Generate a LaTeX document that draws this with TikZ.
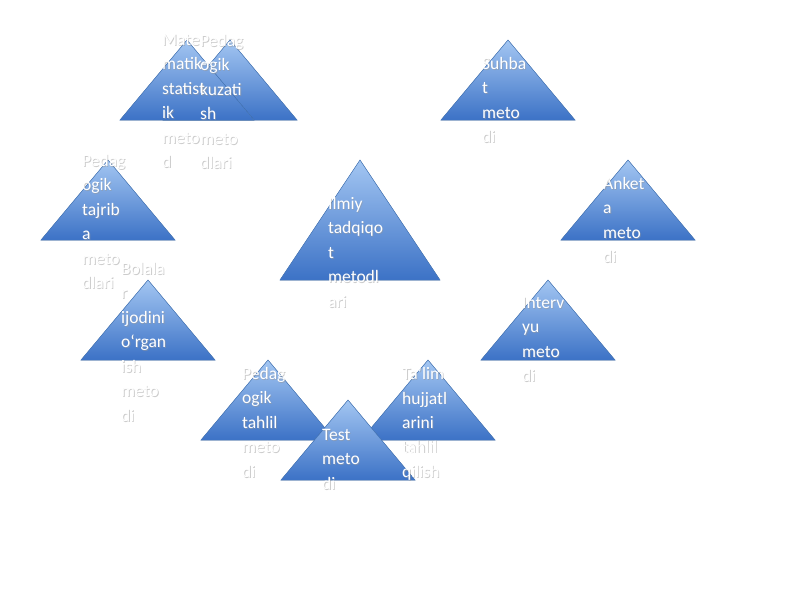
\documentclass[tikz,border=0pt]{standalone}
\usepackage{fontspec}
\setmainfont{Carlito}
\usetikzlibrary{calc}
\definecolor{triTop}{HTML}{A3C6F2}
\definecolor{triBot}{HTML}{3C72C6}
\definecolor{triLine}{HTML}{4A7DC0}
\newcommand{\glowlabel}[3]{%
  \node[lbl, text = black!40, opacity = 0.5] at ($(#2)+(0.8,0.8)$) {#3};
  \node[lbl] (#1) at (#2) {#3};}
\begin{document}
\begin{tikzpicture}[x=1pt, y=-1pt]
\tikzstyle{tri} = [top color = triTop, bottom color = triBot, draw = triLine, line width = 0.5pt]
\tikzstyle{lbl} = [anchor = north west, inner sep = 0pt, align = left, text = white, font = \fontsize{17.5}{24.5}\selectfont]
\useasboundingbox (0,0) rectangle (800,600);
% triangles: apex x, apex y, half width, height
\foreach \ax/\ay/\hw/\h in {230/40/67/80, 187/40/67/80, 508/40/67/80, 108/160/67/80, 360/160/80/120, 628/160/67/80, 148/280/67/80, 548/280/67/80, 268/360/67/80, 428/360/67/80, 348/400/67/80}
  \fill[tri] (\ax,\ay) -- (\ax+\hw,\ay+\h) -- (\ax-\hw,\ay+\h) -- cycle;
\glowlabel{T-2}{200,34}{Pedag\\ogik\\kuzati\\sh\\meto\\dlari}
\glowlabel{T-1}{162,34}{Mate\\matik-\\statist\\ik\\meto\\d}
\glowlabel{T-3}{482,57}{Suhba\\t\\meto\\di}
\glowlabel{T-4}{82,154}{Pedag\\ogik\\tajrib\\a\\meto\\dlari}
\glowlabel{T-5}{328,197}{Ilmiy\\tadqiqo\\t\\metodl\\ari}
\glowlabel{T-6}{603,177}{Anket\\a\\meto\\di}
\glowlabel{T-7}{121,262}{Bolala\\r\\ijodini\\o‘rgan\\ish\\meto\\di}
\glowlabel{T-8}{522,297}{Interv\\yu\\meto\\di}
\glowlabel{T-9}{242,367}{Pedag\\ogik\\tahlil\\meto\\di}
\glowlabel{T-10}{402,367}{Ta’lim\\hujjatl\\arini\\tahlil\\qilish}
\glowlabel{T-11}{322,429}{Test\\meto\\di}
\end{tikzpicture}
\end{document}
